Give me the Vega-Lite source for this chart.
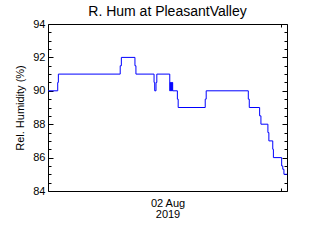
{
  "$schema": "https://vega.github.io/schema/vega-lite/v6.json",
  "width": 239,
  "height": 167,
  "autosize": {"type": "none"},
  "padding": {"left": 48, "top": 24, "right": 33, "bottom": 49},
  "background": "white",
  "title": {"text": "R. Hum at PleasantValley", "font": "Liberation Sans", "fontSize": 14, "fontWeight": "normal", "color": "black", "offset": -15, "baseline": "bottom", "frame": "group", "anchor": "middle"},
  "config": {
    "view": {"stroke": "black", "strokeWidth": 1},
    "axis": {"labelFont": "Liberation Sans", "labelFontSize": 11, "labelColor": "black", "titleFont": "Liberation Sans", "titleFontSize": 11, "titleFontWeight": "normal", "titleColor": "black", "tickColor": "black", "tickWidth": 1, "grid": false, "domain": false}
  },
  "data": {"values": [
    {"t": "2019-08-02T00:00:00Z", "v": 90},
    {"t": "2019-08-02T01:00:00Z", "v": 90.5},
    {"t": "2019-08-02T01:04:00Z", "v": 91},
    {"t": "2019-08-02T07:26:00Z", "v": 91.5},
    {"t": "2019-08-02T07:33:00Z", "v": 92},
    {"t": "2019-08-02T08:57:00Z", "v": 91.5},
    {"t": "2019-08-02T09:03:00Z", "v": 91},
    {"t": "2019-08-02T10:55:00Z", "v": 90.5},
    {"t": "2019-08-02T10:59:00Z", "v": 90},
    {"t": "2019-08-02T11:07:00Z", "v": 90.5},
    {"t": "2019-08-02T11:12:00Z", "v": 91},
    {"t": "2019-08-02T12:32:00Z", "v": 90},
    {"t": "2019-08-02T12:35:00Z", "v": 90.5},
    {"t": "2019-08-02T12:38:00Z", "v": 90},
    {"t": "2019-08-02T12:41:00Z", "v": 90.5},
    {"t": "2019-08-02T12:44:00Z", "v": 90},
    {"t": "2019-08-02T12:47:00Z", "v": 90.5},
    {"t": "2019-08-02T12:50:00Z", "v": 90},
    {"t": "2019-08-02T13:19:00Z", "v": 89.5},
    {"t": "2019-08-02T13:24:00Z", "v": 89},
    {"t": "2019-08-02T16:11:00Z", "v": 89.5},
    {"t": "2019-08-02T16:17:00Z", "v": 90},
    {"t": "2019-08-02T20:37:00Z", "v": 89.5},
    {"t": "2019-08-02T20:43:00Z", "v": 89},
    {"t": "2019-08-02T21:47:00Z", "v": 88.5},
    {"t": "2019-08-02T21:55:00Z", "v": 88},
    {"t": "2019-08-02T22:38:00Z", "v": 87.5},
    {"t": "2019-08-02T22:44:00Z", "v": 87},
    {"t": "2019-08-02T23:08:00Z", "v": 86.5},
    {"t": "2019-08-02T23:12:00Z", "v": 86},
    {"t": "2019-08-03T00:03:00Z", "v": 85.5},
    {"t": "2019-08-03T00:10:00Z", "v": 85.3},
    {"t": "2019-08-03T00:17:00Z", "v": 85},
    {"t": "2019-08-03T00:36:00Z", "v": 85}
  ]},
  "layer": [
    {
      "mark": {"type": "line", "interpolate": "step-after", "color": "#0000ff", "strokeWidth": 1},
      "encoding": {
        "x": {"field": "t", "type": "temporal",
          "scale": {"type": "utc", "domain": [{"year": 2019, "month": 8, "date": 2, "hours": 0, "utc": true}, {"year": 2019, "month": 8, "date": 3, "hours": 0, "minutes": 36, "utc": true}]},
          "axis": {"orient": "bottom", "values": [{"year": 2019, "month": 8, "date": 2, "hours": 12, "minutes": 18, "utc": true}], "labelExpr": "['02 Aug', '2019']", "ticks": false, "labelPadding": 6, "labelLineHeight": 11, "title": null}},
        "y": {"field": "v", "type": "quantitative",
          "scale": {"domain": [84, 94], "nice": false, "zero": false},
          "axis": {"orient": "left", "values": [84, 86, 88, 90, 92, 94], "ticks": false, "labelPadding": 3, "title": "Rel. Humidity (%)", "titlePadding": 7}}
      }
    },
    {
      "mark": {"type": "line", "interpolate": "step-after", "opacity": 0},
      "encoding": {
        "x": {"field": "t", "type": "temporal",
          "axis": {"orient": "bottom", "offset": -3, "values": [{"year": 2019, "month": 8, "date": 3, "hours": 0, "utc": true}], "labels": false, "ticks": true, "tickSize": 3, "title": null}},
        "y": {"field": "v", "type": "quantitative",
          "axis": {"orient": "left", "offset": -5, "values": [84, 86, 88, 90, 92, 94], "labels": false, "ticks": true, "tickSize": 5, "title": null}}
      }
    },
    {
      "mark": {"type": "line", "interpolate": "step-after", "opacity": 0},
      "encoding": {
        "x": {"field": "t", "type": "temporal",
          "axis": {"orient": "top", "offset": -3, "values": [{"year": 2019, "month": 8, "date": 3, "hours": 0, "utc": true}], "labels": false, "ticks": true, "tickSize": 3, "title": null}},
        "y": {"field": "v", "type": "quantitative",
          "axis": {"orient": "right", "offset": -5, "values": [84, 86, 88, 90, 92, 94], "labels": false, "ticks": true, "tickSize": 5, "title": null}}
      }
    },
    {
      "mark": {"type": "line", "interpolate": "step-after", "opacity": 0},
      "encoding": {
        "x": {"field": "t", "type": "temporal", "axis": null},
        "y": {"field": "v", "type": "quantitative",
          "axis": {"orient": "left", "offset": -3, "values": [84.5, 85, 85.5, 86.5, 87, 87.5, 88.5, 89, 89.5, 90.5, 91, 91.5, 92.5, 93, 93.5], "labels": false, "ticks": true, "tickSize": 3, "title": null}}
      }
    },
    {
      "mark": {"type": "line", "interpolate": "step-after", "opacity": 0},
      "encoding": {
        "x": {"field": "t", "type": "temporal", "axis": null},
        "y": {"field": "v", "type": "quantitative",
          "axis": {"orient": "right", "offset": -3, "values": [84.5, 85, 85.5, 86.5, 87, 87.5, 88.5, 89, 89.5, 90.5, 91, 91.5, 92.5, 93, 93.5], "labels": false, "ticks": true, "tickSize": 3, "title": null}}
      }
    }
  ],
  "resolve": {"axis": {"x": "independent", "y": "independent"}}
}
